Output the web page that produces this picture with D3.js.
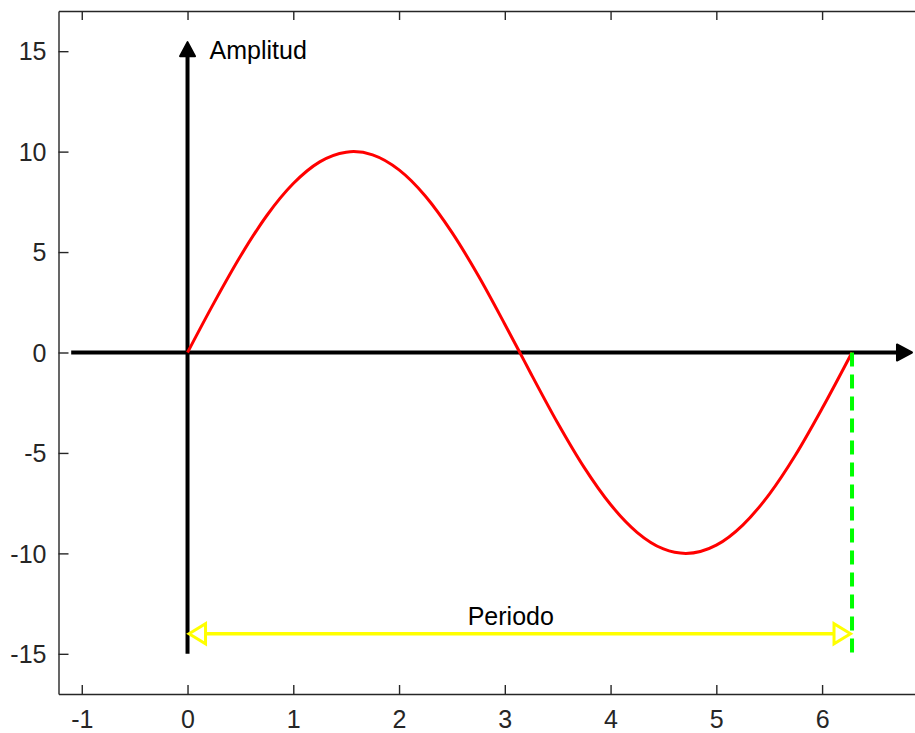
<!DOCTYPE html>
<html>
<head>
<meta charset="utf-8">
<script src="https://cdn.jsdelivr.net/npm/d3@7"></script>
<style>
  html, body { margin: 0; padding: 0; background: #fff; }
  svg { display: block; }
  text { font-family: "Liberation Sans", Arial, Helvetica, sans-serif; }
</style>
</head>
<body>
<svg id="chart" width="915" height="733"></svg>
<script>
// Signal samples: time (rad) and amplitude
const tValues = [0, 0.25, 0.5, 0.75, 1, 1.25, 1.5, 1.571, 1.75, 2, 2.25, 2.5, 2.75, 3, 3.142,
                 3.25, 3.5, 3.75, 4, 4.25, 4.5, 4.712, 5, 5.25, 5.5, 5.75, 6, 6.283];
const ampValues = [0, 2.47, 4.79, 6.82, 8.41, 9.49, 9.97, 10, 9.84, 9.09, 7.78, 5.98, 3.82, 1.41, 0,
                   -1.08, -3.51, -5.72, -7.57, -8.95, -9.78, -10, -9.59, -8.59, -7.06, -5.09, -2.79, 0];

// Axis ticks
const xTicks = [-1, 0, 1, 2, 3, 4, 5, 6];
const yTicks = [-15, -10, -5, 0, 5, 10, 15];

// Annotation values
const period = 6.283;          // end of one cycle
const periodArrowY = -14;      // height of the period arrow
const guideBottom = -15;       // lower end of the dashed guide and vertical axis
const xAxisExtent = [-1.1, 6.85];
const yAxisTop = 15.45;
const labels = { amp: "Amplitud", period: "Periodo" };

const svg = d3.select("#chart");
const W = 915, H = 733;
const plotLeft = 58.5, plotTop = 11, plotBottom = 694;

const x = d3.scaleLinear().domain([-1.22, 6.9]).range([plotLeft, plotLeft + 8.12 * 105.76]);
const y = d3.scaleLinear().domain([-17, 17]).range([plotBottom, plotTop]);

svg.append("rect").attr("width", W).attr("height", H).attr("fill", "#fff");

const axisColor = "#262626";
const fontSize = 25;
const fmt = d => String(d);   // plain hyphen for negatives

// Bottom axis
const gx = svg.append("g").attr("transform", `translate(0,${plotBottom})`)
  .call(d3.axisBottom(x).tickValues(xTicks).tickSizeInner(-9).tickSizeOuter(0).tickPadding(16)
        .tickFormat(fmt));
// Top axis (mirrored ticks, no labels)
const gxt = svg.append("g").attr("transform", `translate(0,${plotTop})`)
  .call(d3.axisTop(x).tickValues(xTicks).tickSizeInner(-9).tickSizeOuter(0).tickFormat(""));
// Left axis
const gy = svg.append("g").attr("transform", `translate(${plotLeft},0)`)
  .call(d3.axisLeft(y).tickValues(yTicks).tickSizeInner(-10).tickSizeOuter(0).tickPadding(12)
        .tickFormat(fmt));

[gx, gxt, gy].forEach(g => {
  g.select(".domain").attr("stroke", axisColor).attr("stroke-width", 1.4);
  g.selectAll(".tick line").attr("stroke", axisColor).attr("stroke-width", 1.4);
  g.selectAll(".tick text").attr("fill", axisColor).attr("font-size", fontSize)
    .attr("font-family", "'Liberation Sans', Arial, sans-serif");
});
gx.selectAll(".tick text").attr("dy", "0.71em");
gy.selectAll(".tick text").attr("dy", "0.35em");

// Coordinate axes with arrows
const black = "#000";
svg.append("line")
  .attr("x1", x(xAxisExtent[0])).attr("x2", x(xAxisExtent[1]) - 10)
  .attr("y1", y(0)).attr("y2", y(0))
  .attr("stroke", black).attr("stroke-width", 4);
svg.append("path")
  .attr("d", `M${x(xAxisExtent[1])},${y(0)} L${x(xAxisExtent[1]) - 15},${y(0) - 8} L${x(xAxisExtent[1]) - 15},${y(0) + 8} Z`)
  .attr("fill", black).attr("stroke", black).attr("stroke-width", 2).attr("stroke-linejoin", "round");

svg.append("line")
  .attr("x1", x(0)).attr("x2", x(0))
  .attr("y1", y(guideBottom)).attr("y2", y(yAxisTop) + 10)
  .attr("stroke", black).attr("stroke-width", 4);
svg.append("path")
  .attr("d", `M${x(0)},${y(yAxisTop)} L${x(0) - 7.5},${y(yAxisTop) + 14} L${x(0) + 7.5},${y(yAxisTop) + 14} Z`)
  .attr("fill", black).attr("stroke", black).attr("stroke-width", 2).attr("stroke-linejoin", "round");

// Sine wave
const pts = tValues.map((t, i) => [t, ampValues[i]]);
svg.append("path")
  .datum(pts)
  .attr("d", d3.line().x(d => x(d[0])).y(d => y(d[1])).curve(d3.curveMonotoneX))
  .attr("fill", "none").attr("stroke", "#ff0000").attr("stroke-width", 3);

// Dashed guide at the end of the period
svg.append("line")
  .attr("x1", x(period)).attr("x2", x(period))
  .attr("y1", y(0)).attr("y2", y(guideBottom))
  .attr("stroke", "#00ff00").attr("stroke-width", 4).attr("stroke-dasharray", "14,8");

// Double-headed period arrow with open heads
const yellow = "#ffff00";
const ay = y(periodArrowY);
const headLen = 18, headHalf = 10;
const x0 = x(0), x1 = x(period);
svg.append("line")
  .attr("x1", x0 + headLen).attr("x2", x1 - headLen)
  .attr("y1", ay).attr("y2", ay)
  .attr("stroke", yellow).attr("stroke-width", 3.5);
svg.append("path")
  .attr("d", `M${x0 + 1.5},${ay} L${x0 + headLen},${ay - headHalf} L${x0 + headLen},${ay + headHalf} Z`)
  .attr("fill", "#fff").attr("stroke", yellow).attr("stroke-width", 3);
svg.append("path")
  .attr("d", `M${x1 - 1.5},${ay} L${x1 - headLen},${ay - headHalf} L${x1 - headLen},${ay + headHalf} Z`)
  .attr("fill", "#fff").attr("stroke", yellow).attr("stroke-width", 3);

// Text labels
svg.append("text")
  .attr("x", x(0) + 22).attr("y", y(15) + 8)
  .attr("font-size", fontSize).attr("fill", black)
  .text(labels.amp);
svg.append("text")
  .attr("x", x(period / 2) - 9).attr("y", ay - 9)
  .attr("text-anchor", "middle")
  .attr("font-size", fontSize).attr("fill", black)
  .text(labels.period);
</script>
</body>
</html>
